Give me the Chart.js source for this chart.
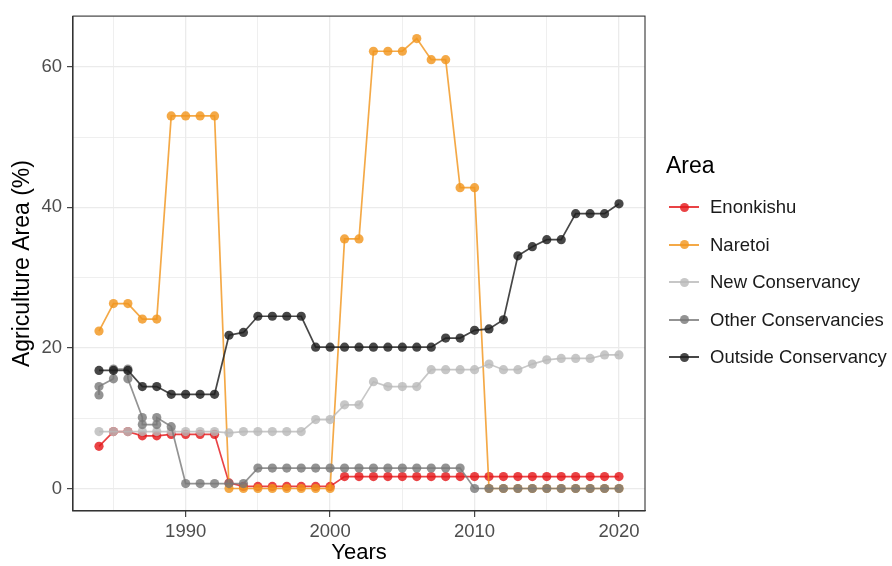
<!DOCTYPE html>
<html>
<head>
<meta charset="utf-8">
<script src="https://cdn.jsdelivr.net/npm/chart.js@4/dist/chart.umd.min.js"></script>
<style>
    html, body { margin: 0; padding: 0; background: #fff; }
    #wrap { position: relative; width: 892px; height: 566px; }
    #legend {
        position: absolute; left: 666px; top: 148px;
        font-family: "Liberation Sans", Arial, sans-serif; color: #000;
    }
    #legend .title { font-size: 23px; height: 34px; line-height: 34px; margin-bottom: 6px; }
    #legend .item { position: relative; height: 37.6px; line-height: 37.6px; font-size: 18.5px; padding-left: 44px; color: #1a1a1a; }
    #legend .key-line { position: absolute; left: 3px; top: 18px; width: 30px; height: 2px; }
    #legend .key-dot { position: absolute; left: 13.5px; top: 14.5px; width: 9px; height: 9px; border-radius: 50%; }
</style>
</head>
<body>
<div id="wrap">
    <canvas id="chart" width="892" height="566"></canvas>
    <div id="legend"></div>
</div>
<script>
// ==========================================
// Data
// ==========================================

const YEARS = [1984, 1985, 1986, 1987, 1988, 1989, 1990, 1991, 1992, 1993,
    1994, 1995, 1996, 1997, 1998, 1999, 2000, 2001, 2002, 2003,
    2004, 2005, 2006, 2007, 2008, 2009, 2010, 2011, 2012, 2013,
    2014, 2015, 2016, 2017, 2018, 2019, 2020];

const ENONKISHU = [6.0, 8.1, 8.1, 7.5, 7.5, 7.7, 7.7, 7.7, 7.7, 0.8,
    0.3, 0.3, 0.3, 0.3, 0.3, 0.3, 0.3, 1.7, 1.7, 1.7,
    1.7, 1.7, 1.7, 1.7, 1.7, 1.7, 1.7, 1.7, 1.7, 1.7,
    1.7, 1.7, 1.7, 1.7, 1.7, 1.7, 1.7];

const NARETOI = [22.4, 26.3, 26.3, 24.1, 24.1, 53.0, 53.0, 53.0, 53.0, 0,
    0, 0, 0, 0, 0, 0, 0, 35.5, 35.5, 62.2,
    62.2, 62.2, 64.0, 61.0, 61.0, 42.8, 42.8, 0, 0, 0,
    0, 0, 0, 0, 0, 0, 0];

const NEW_CONSERVANCY = [8.1, 8.1, 8.1, 8.1, 8.1, 8.1, 8.1, 8.1, 8.1, 7.9,
    8.1, 8.1, 8.1, 8.1, 8.1, 9.8, 9.8, 11.9, 11.9, 15.2,
    14.5, 14.5, 14.5, 16.9, 16.9, 16.9, 16.9, 17.7, 16.9, 16.9,
    17.7, 18.3, 18.5, 18.5, 18.5, 19.0, 19.0];

// "Other Conservancies" has two values in some early years
const OTHER_YEARS = [1984, 1984, 1985, 1985, 1986, 1986, 1987, 1987, 1988, 1988,
    1989, 1990, 1991, 1992, 1993, 1994, 1995, 1996, 1997, 1998,
    1999, 2000, 2001, 2002, 2003, 2004, 2005, 2006, 2007, 2008,
    2009, 2010, 2011, 2012, 2013, 2014, 2015, 2016, 2017, 2018,
    2019, 2020];

const OTHER_CONSERVANCIES = [13.3, 14.5, 15.6, 17.0, 17.0, 15.6, 10.1, 9.1, 9.1, 10.1,
    8.8, 0.7, 0.7, 0.7, 0.7, 0.7, 2.9, 2.9, 2.9, 2.9,
    2.9, 2.9, 2.9, 2.9, 2.9, 2.9, 2.9, 2.9, 2.9, 2.9,
    2.9, 0, 0, 0, 0, 0, 0, 0, 0, 0,
    0, 0];

const OUTSIDE = [16.8, 16.8, 16.8, 14.5, 14.5, 13.4, 13.4, 13.4, 13.4, 21.8,
    22.2, 24.5, 24.5, 24.5, 24.5, 20.1, 20.1, 20.1, 20.1, 20.1,
    20.1, 20.1, 20.1, 20.1, 21.4, 21.4, 22.5, 22.7, 24.0, 33.1,
    34.4, 35.4, 35.4, 39.1, 39.1, 39.1, 40.5];

const X_TICKS = [1985, 1990, 1995, 2000, 2005, 2010, 2015, 2020];
const Y_TICKS = [0, 10, 20, 30, 40, 50, 60];

const SERIES = [
    { name: 'Enonkishu', years: YEARS, values: ENONKISHU, color: 'rgba(228, 26, 28, 0.82)' },
    { name: 'Naretoi', years: YEARS, values: NARETOI, color: 'rgba(241, 150, 30, 0.82)' },
    { name: 'New Conservancy', years: YEARS, values: NEW_CONSERVANCY, color: 'rgba(185, 185, 185, 0.8)' },
    { name: 'Other Conservancies', years: OTHER_YEARS, values: OTHER_CONSERVANCIES, color: 'rgba(120, 120, 120, 0.8)' },
    { name: 'Outside Conservancy', years: YEARS, values: OUTSIDE, color: 'rgba(30, 30, 30, 0.82)' }
];

// ==========================================
// Chart
// ==========================================

const FONT = '"Liberation Sans", Arial, sans-serif';

const panelBorder = {
    id: 'panelBorder',
    afterDraw(chart) {
        const { ctx, chartArea: a } = chart;
        ctx.save();
        ctx.strokeStyle = '#333333';
        ctx.lineWidth = 1.1;
        ctx.strokeRect(a.left, a.top, a.right - a.left, a.bottom - a.top);
        ctx.restore();
    }
};

function gridWidth(ctx, majors) {
    return ctx.tick && majors.includes(ctx.tick.value) ? 1.3 : 0.8;
}

const datasets = SERIES.map((s, i) => ({
    label: s.name,
    data: s.years.map((yr, j) => ({ x: yr, y: s.values[j] })),
    borderColor: s.color,
    backgroundColor: s.color,
    pointBackgroundColor: s.color,
    pointBorderWidth: 0,
    pointRadius: 4.6,
    borderWidth: 1.7,
    tension: 0,
    order: SERIES.length - i   // later series drawn on top, like ggplot
}));

new Chart(document.getElementById('chart'), {
    type: 'line',
    data: { datasets },
    options: {
        responsive: false,
        animation: false,
        layout: { padding: { top: 15, right: 247, left: 0, bottom: 0 } },
        plugins: { legend: { display: false }, tooltip: { enabled: false } },
        scales: {
            x: {
                type: 'linear',
                min: 1982.2,
                max: 2021.8,
                afterBuildTicks: scale => { scale.ticks = X_TICKS.map(v => ({ value: v })); },
                afterFit: scale => { scale.height = 55; },
                ticks: {
                    autoSkip: false,
                    maxRotation: 0,
                    padding: 4,
                    color: '#4d4d4d',
                    font: { family: FONT, size: 18.5 },
                    callback: v => (v % 10 === 0 ? String(v) : '')
                },
                grid: {
                    color: '#ebebeb',
                    lineWidth: ctx => gridWidth(ctx, [1990, 2000, 2010, 2020]),
                    tickLength: 6,
                    tickWidth: 1.1,
                    tickColor: ctx => (ctx.tick && ctx.tick.value % 10 === 0 ? '#333333' : 'rgba(0,0,0,0)')
                },
                border: { display: true, color: '#333333', width: 1.1 },
                title: {
                    display: true,
                    text: 'Years',
                    color: '#000',
                    font: { family: FONT, size: 22 },
                    padding: { top: 0, bottom: 0 }
                }
            },
            y: {
                type: 'linear',
                min: -3.2,
                max: 67.2,
                afterBuildTicks: scale => { scale.ticks = Y_TICKS.map(v => ({ value: v })); },
                afterFit: scale => { scale.width = 73; },
                ticks: {
                    padding: 5,
                    color: '#4d4d4d',
                    font: { family: FONT, size: 18.5 },
                    callback: v => (v % 20 === 0 ? String(v) : '')
                },
                grid: {
                    color: '#ebebeb',
                    lineWidth: ctx => gridWidth(ctx, [0, 20, 40, 60]),
                    tickLength: 6,
                    tickWidth: 1.1,
                    tickColor: ctx => (ctx.tick && ctx.tick.value % 20 === 0 ? '#333333' : 'rgba(0,0,0,0)')
                },
                border: { display: true, color: '#333333', width: 1.1 },
                title: {
                    display: true,
                    text: 'Agriculture Area (%)',
                    color: '#000',
                    font: { family: FONT, size: 23 },
                    padding: { top: 9, bottom: 0 }
                }
            }
        }
    },
    plugins: [panelBorder]
});

// ==========================================
// Legend (HTML)
// ==========================================

function renderLegend() {
    const box = document.getElementById('legend');
    let html = '<div class="title">Area</div>';
    SERIES.forEach(s => {
        html += `<div class="item">
            <span class="key-line" style="background:${s.color}"></span>
            <span class="key-dot" style="background:${s.color}"></span>
            ${s.name}
        </div>`;
    });
    box.innerHTML = html;
}

renderLegend();
</script>
</body>
</html>
